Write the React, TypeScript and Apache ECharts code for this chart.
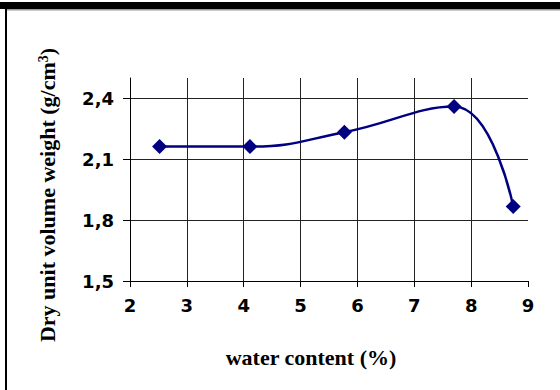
import React, { useEffect, useRef } from "react";
import * as echarts from "echarts";

const waterContent = [2.52, 4.11, 5.77, 7.7, 8.74];
const dryUnitWeight = [2.162, 2.162, 2.233, 2.359, 1.867];
const yTickValues = [1.5, 1.8, 2.1, 2.4];
const xTickValues = [2, 3, 4, 5, 6, 7, 8, 9];
const xTitle = "water content (%)";
const yTitleMain = "Dry unit volume weight (g/cm";
const yTitleSup = "3";
const yTitleEnd = ")";

export default function App() {
  const ref = useRef<HTMLDivElement>(null);
  useEffect(() => {
    if (!ref.current) return;
    const chart = echarts.init(ref.current, undefined, { renderer: "svg" });
    const points = waterContent.map((x, i) => [x, dryUnitWeight[i]]);
    const serif = "'Liberation Serif', 'Times New Roman', serif";
    const sans = "'DejaVu Sans', sans-serif";
    chart.setOption({
      animation: false,
      backgroundColor: "#ffffff",
      grid: { left: 130, right: 32, top: 78, bottom: 109 },
      xAxis: {
        type: "value",
        min: 2,
        max: 9,
        interval: 1,
        axisLine: { show: true, onZero: false, lineStyle: { color: "#000", width: 1 } },
        axisTick: { show: true, length: 6, inside: false, lineStyle: { color: "#000" } },
        axisLabel: {
          margin: 15,
          color: "#000",
          fontFamily: sans,
          fontWeight: "bold",
          fontSize: 18,
          customValues: xTickValues,
        },
        splitLine: {
          show: true,
          showMinLine: false,
          showMaxLine: false,
          lineStyle: { color: "#222", width: 1 },
        },
      },
      yAxis: {
        type: "value",
        min: 1.5,
        max: 2.5,
        interval: 0.3,
        axisLine: { show: true, onZero: false, lineStyle: { color: "#000", width: 1 } },
        axisTick: {
          show: true,
          length: 7,
          inside: false,
          lineStyle: { color: "#000" },
          customValues: yTickValues,
        },
        axisLabel: {
          margin: 16,
          color: "#000",
          fontFamily: sans,
          fontWeight: "bold",
          fontSize: 18,
          customValues: yTickValues,
          formatter: (v: number) => v.toFixed(1).replace(".", ","),
        },
        splitLine: {
          show: true,
          showMinLine: false,
          showMaxLine: true,
          lineStyle: { color: "#222", width: 1 },
        },
      },
      graphic: [
        { type: "rect", shape: { x: 0, y: 2, width: 560, height: 7 }, style: { fill: "#000" } },
        { type: "rect", shape: { x: 5, y: 9, width: 2, height: 381 }, style: { fill: "#000" } },
        { type: "rect", shape: { x: 7, y: 9, width: 553, height: 1.5 }, style: { fill: "#999" } },
        {
          type: "text",
          x: 311,
          y: 357,
          style: {
            text: xTitle,
            align: "center",
            verticalAlign: "middle",
            fill: "#000",
            font: `bold 22px ${serif}`,
          },
        },
        {
          type: "text",
          x: 47,
          y: 195,
          rotation: Math.PI / 2,
          style: {
            text: `{m|${yTitleMain}}{s|${yTitleSup}}{m|${yTitleEnd}}`,
            align: "center",
            verticalAlign: "middle",
            fill: "#000",
            rich: {
              m: { fontFamily: serif, fontWeight: "bold", fontSize: 22, fill: "#000" },
              s: { fontFamily: serif, fontWeight: "bold", fontSize: 14, fill: "#000", verticalAlign: "top", padding: [0, 0, 8, 0] },
            },
          },
        },
      ],
      series: [
        {
          type: "line",
          data: points,
          smooth: 0.45,
          symbol: "diamond",
          symbolSize: 15,
          lineStyle: { color: "#000080", width: 2.5 },
          itemStyle: { color: "#000080" },
        },
      ],
    });
    return () => chart.dispose();
  }, []);
  return (
    <div
      ref={ref}
      style={{ position: "fixed", left: 0, top: 0, width: 560, height: 390 }}
    />
  );
}
